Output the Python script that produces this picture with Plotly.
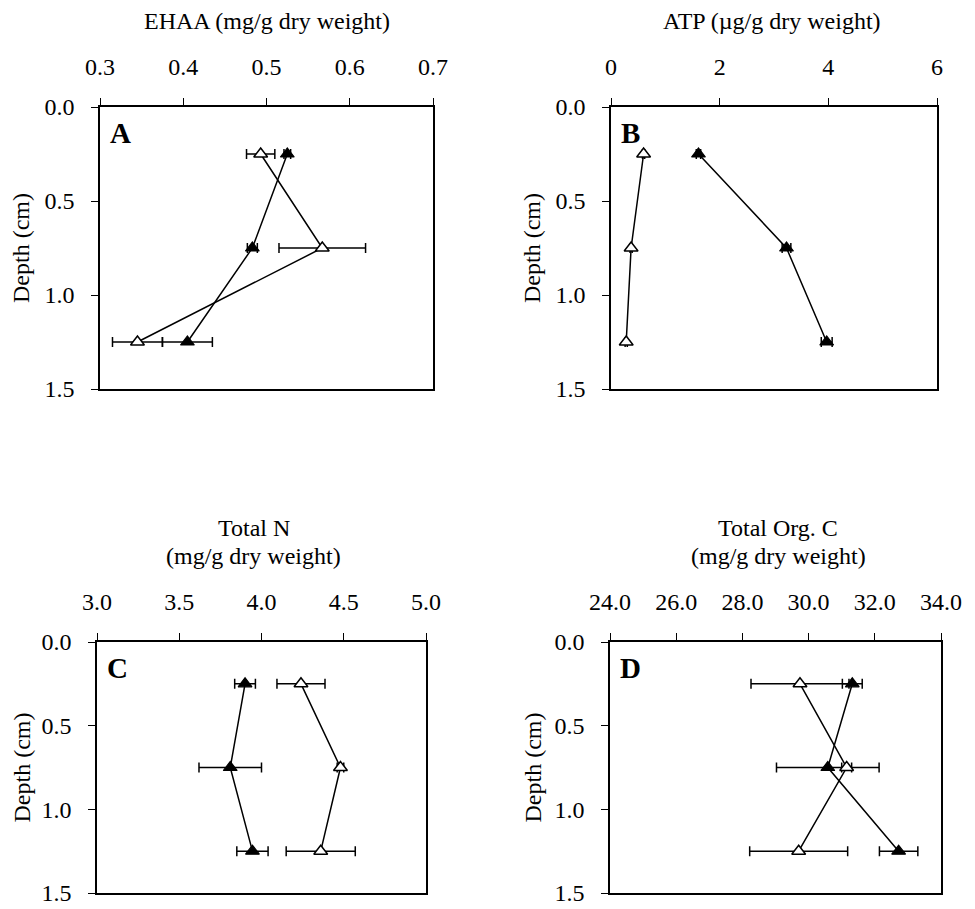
import plotly.graph_objects as go

# ---------------- data ----------------
depth = [0.25, 0.75, 1.25]

# Panel A: EHAA (mg/g dry weight)
ehaa_open = [0.493, 0.567, 0.345]
ehaa_open_err = [0.017, 0.052, 0.030]
ehaa_filled = [0.525, 0.483, 0.405]
ehaa_filled_err = [0.004, 0.006, 0.030]

# Panel B: ATP (ug/g dry weight)
atp_open = [0.60, 0.37, 0.28]
atp_open_err = [0.02, 0.02, 0.02]
atp_filled = [1.61, 3.23, 3.97]
atp_filled_err = [0.04, 0.08, 0.10]

# Panel C: Total N (mg/g dry weight)
tn_open = [4.24, 4.48, 4.36]
tn_open_err = [0.146, 0.02, 0.21]
tn_filled = [3.90, 3.81, 3.945]
tn_filled_err = [0.063, 0.19, 0.095]

# Panel D: Total Org. C (mg/g dry weight)
toc_open = [29.74, 31.15, 29.70]
toc_open_err = [1.48, 0.15, 1.48]
toc_filled = [31.32, 30.58, 32.72]
toc_filled_err = [0.30, 1.55, 0.58]

panel_letters = ["A", "B", "C", "D"]
x_ranges = [[0.3, 0.7], [0, 6], [3.0, 5.0], [24.0, 34.0]]
x_dticks = [0.1, 2, 0.5, 2.0]
x_formats = [".1f", "d", ".1f", ".1f"]
depth_ticks = [0.0, 0.5, 1.0, 1.5]

# ---------------- layout geometry ----------------
W, H = 975, 909
OX, OY = 8, 8   # page body margin offset
FONT = "'Liberation Serif', 'Times New Roman', Times, serif"
FS = 24


def px(x):
    return (x - OX) / W


def py(y):
    return 1 - (y - OY) / H


# plot boxes in screen pixels (left, right, top, bottom)
boxes = [
    (100, 433, 107, 389),
    (611, 937, 107, 389),
    (97, 426, 642, 893),
    (610, 941, 642, 893),
]

fig = go.Figure()

series = [
    (ehaa_open, ehaa_open_err, ehaa_filled, ehaa_filled_err),
    (atp_open, atp_open_err, atp_filled, atp_filled_err),
    (tn_open, tn_open_err, tn_filled, tn_filled_err),
    (toc_open, toc_open_err, toc_filled, toc_filled_err),
]

for i, (o, oe, f, fe) in enumerate(series):
    xa = "x" if i == 0 else f"x{i+1}"
    ya = "y" if i == 0 else f"y{i+1}"
    fig.add_trace(go.Scatter(
        x=f, y=depth, xaxis=xa, yaxis=ya, mode="lines+markers",
        line=dict(color="black", width=1.5),
        marker=dict(symbol="triangle-up", size=12, color="black",
                    line=dict(color="black", width=1.2)),
        error_x=dict(type="data", array=fe, visible=True, color="black",
                     thickness=1.5, width=5),
        showlegend=False, cliponaxis=False))
    fig.add_trace(go.Scatter(
        x=o, y=depth, xaxis=xa, yaxis=ya, mode="lines+markers",
        line=dict(color="black", width=1.5),
        marker=dict(symbol="triangle-up", size=12, color="white",
                    line=dict(color="black", width=1.5)),
        error_x=dict(type="data", array=oe, visible=True, color="black",
                     thickness=1.5, width=5),
        showlegend=False, cliponaxis=False))

layout = dict(
    width=W, height=H,
    margin=dict(l=0, r=0, t=0, b=0, autoexpand=False),
    paper_bgcolor="white", plot_bgcolor="white",
    font=dict(family=FONT, size=FS, color="black"),
)

annotations = []
for i, (l, r, t, b) in enumerate(boxes):
    sx = "" if i == 0 else str(i + 1)
    xdom = [px(l), px(r)]
    ydom = [py(b), py(t)]
    layout["xaxis" + sx] = dict(
        domain=xdom, range=x_ranges[i], side="top", automargin=False,
        anchor="y" + sx, dtick=x_dticks[i], tick0=x_ranges[i][0],
        tickformat=x_formats[i], ticks="outside", ticklen=7,
        tickwidth=1.3, tickcolor="black",
        showline=True, linecolor="black", linewidth=1.5, mirror=True,
        showgrid=False, zeroline=False, ticklabelstandoff=14,
        tickfont=dict(family=FONT, size=FS, color="black"))
    layout["yaxis" + sx] = dict(
        domain=ydom, range=[1.5, 0.0], anchor="x" + sx, automargin=False,
        tickvals=depth_ticks, tickformat=".1f", ticks="outside", ticklen=7,
        tickwidth=1.3, tickcolor="black",
        showline=True, linecolor="black", linewidth=1.5, mirror=True,
        showgrid=False, zeroline=False, ticklabelstandoff=12,
        tickfont=dict(family=FONT, size=FS, color="black"))
    # panel letter
    annotations.append(dict(
        xref="paper", yref="paper", x=px(l + 8), y=py(t + 8),
        xanchor="left", yanchor="top", showarrow=False, text="<b>%s</b>" % panel_letters[i],
        font=dict(family=FONT, size=29, color="black")))
    # y title
    ylab_x = 21 if l < 300 else 532
    annotations.append(dict(
        xref="paper", yref="paper", x=px(ylab_x), y=py((t + b) / 2),
        xanchor="center", yanchor="middle", showarrow=False, textangle=-90,
        text="Depth (cm)", font=dict(family=FONT, size=FS, color="black")))

# x titles
tfont = dict(family=FONT, size=FS, color="black")
titles = [
    (267, 21, "EHAA (mg/g dry weight)"),
    (772, 21, "ATP (\u00b5g/g dry weight)"),
    (254, 528, "Total N"),
    (254, 556, "(mg/g dry weight)"),
    (778, 528, "Total Org. C"),
    (778, 556, "(mg/g dry weight)"),
]
for (tx, ty, txt) in titles:
    annotations.append(dict(xref="paper", yref="paper", x=px(tx), y=py(ty),
                            xanchor="center", yanchor="middle", showarrow=False,
                            text=txt, font=tfont))

layout["annotations"] = annotations
fig.update_layout(**layout)
fig.write_html("out.html")
